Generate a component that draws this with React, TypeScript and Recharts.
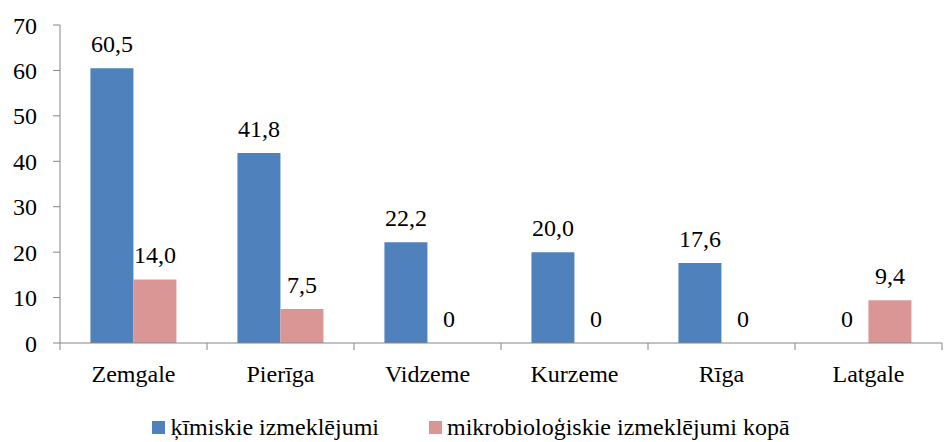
import { BarChart, Bar, XAxis, YAxis, Legend, LabelList, Rectangle } from 'recharts';

const regions = ['Zemgale', 'Pierīga', 'Vidzeme', 'Kurzeme', 'Rīga', 'Latgale'];
const chemical = [60.5, 41.8, 22.2, 20.0, 17.6, 0];
const microbio = [14.0, 7.5, 0, 0, 0, 9.4];
const yTicks = [0, 10, 20, 30, 40, 50, 60, 70];

const data = regions.map((name, i) => ({ name, chem: chemical[i], micro: microbio[i] }));

const FONT = 'Liberation Serif';
const FS = 24;
const AXIS = '#868686';
const seriesOrder = ['chem', 'micro'];

const fmt = (v: any) => (Number(v) === 0 ? '0' : Number(v).toFixed(1).replace('.', ','));

// zero bars keep a tiny height so their label still shows, but draw nothing
const BarShape = (props: any) => {
  if (!props.value) return <g />;
  return <Rectangle {...props} />;
};

function CategoryTick(props: any) {
  const { x, y, payload, index, visibleTicksCount } = props;
  const half = payload.offset ?? 0;
  const axisY = y - 22;
  return (
    <g>
      <line x1={x - half} x2={x - half} y1={axisY} y2={axisY + 7} stroke={AXIS} />
      {index === visibleTicksCount - 1 && (
        <line x1={x + half} x2={x + half} y1={axisY} y2={axisY + 7} stroke={AXIS} />
      )}
      <text x={x} y={y} dy="0.71em" textAnchor="middle" fontSize={FS} fill="#000" style={{ fontFamily: FONT }}>
        {payload.value}
      </text>
    </g>
  );
}

function LegendContent(props: any) {
  const items = [...props.payload].sort(
    (a: any, b: any) => seriesOrder.indexOf(a.dataKey) - seriesOrder.indexOf(b.dataKey)
  );
  return (
    <div style={{ height: 30, display: 'flex', justifyContent: 'center', alignItems: 'center', gap: 50 }}>
      {items.map((p: any) => (
        <div key={p.value} style={{ display: 'flex', alignItems: 'center', fontFamily: FONT, fontSize: FS, color: '#000' }}>
          <span style={{ width: 13, height: 13, background: p.color, display: 'inline-block', marginRight: 5 }} />
          {p.value}
        </div>
      ))}
    </div>
  );
}

export default function App() {
  return (
    <div style={{ position: 'absolute', left: 0, top: 0, background: '#fff', fontFamily: FONT }}>
      <BarChart
        width={946}
        height={442}
        data={data}
        margin={{ top: 25, right: 4, left: 0, bottom: 0 }}
        barCategoryGap="20.7%"
        barGap={0}
      >
        <YAxis
          domain={[0, 70]}
          ticks={yTicks}
          width={60}
          axisLine={{ stroke: AXIS }}
          tickLine={{ stroke: AXIS }}
          tickSize={7}
          tickMargin={16}
          tick={{ fontSize: FS, fill: '#000', style: { fontFamily: FONT } }}
        />
        <XAxis
          dataKey="name"
          height={69}
          axisLine={{ stroke: AXIS }}
          tickLine={false}
          tickSize={0}
          tickMargin={22}
          interval={0}
          tick={<CategoryTick />}
        />
        <Legend verticalAlign="bottom" content={<LegendContent />} />
        <Bar dataKey="chem" name="ķīmiskie izmeklējumi" fill="#4F81BD" minPointSize={0.01} shape={BarShape} isAnimationActive={false}>
          <LabelList dataKey="chem" position="top" offset={16} formatter={fmt} style={{ fontSize: FS, fill: '#000', fontFamily: FONT }} />
        </Bar>
        <Bar dataKey="micro" name="mikrobioloģiskie izmeklējumi kopā" fill="#D99694" minPointSize={0.01} shape={BarShape} isAnimationActive={false}>
          <LabelList dataKey="micro" position="top" offset={16} formatter={fmt} style={{ fontSize: FS, fill: '#000', fontFamily: FONT }} />
        </Bar>
      </BarChart>
    </div>
  );
}
